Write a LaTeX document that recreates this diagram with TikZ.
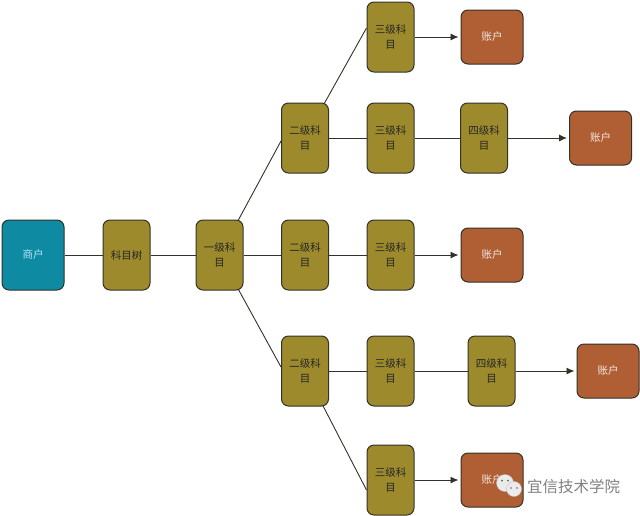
\documentclass[tikz,border=0pt]{standalone}
\usepackage{fontspec}
\setmainfont{Noto Sans CJK SC}
\usetikzlibrary{arrows.meta,backgrounds}
\definecolor{olive}{HTML}{9C8A2C}
\definecolor{teal2}{HTML}{0E8BA2}
\definecolor{rust}{HTML}{B05F35}
\definecolor{edgeC}{HTML}{33322A}
\tikzset{
 box/.style={draw=edgeC,line width=1pt,rounded corners=7pt,align=center,inner sep=0pt,font=\fontsize{10.5}{14.5}\selectfont},
 lvl/.style={box,fill=olive,text=black!85,minimum width=47pt,minimum height=70pt},
 acct/.style={box,fill=rust,text=white!85!rust,minimum width=62pt,minimum height=54pt},
 rootbox/.style={box,fill=teal2,text=cyan!30!white,minimum width=62pt,minimum height=70pt},
 link/.style={draw=edgeC,line width=0.9pt},
 arrowlink/.style={link,-{Latex[length=8pt,width=7pt]},shorten >=2pt},
 wmark/.style={font=\fontsize{15.5}{18}\selectfont,text=black!50,inner sep=0pt},
 bubble/.style={fill=white!92!black,draw=black!25,line width=0.4pt},
 eye/.style={fill=black!60,draw=none}
}
\begin{document}
\begin{tikzpicture}[x=1pt,y=-1pt]
\useasboundingbox (0,0) rectangle (640,515);
\node[rootbox] (m) at (33,255) {商户};
\node[lvl] (t) at (126.5,255) {科目树};
\node[lvl] (l1) at (219.5,255) {一级科\\目};
\node[lvl] (l2a) at (305,138) {二级科\\目};
\node[lvl] (l2b) at (305,255) {二级科\\目};
\node[lvl] (l2c) at (305,371) {二级科\\目};
\node[lvl] (l3a) at (390.5,37) {三级科\\目};
\node[lvl] (l3b) at (390.5,138) {三级科\\目};
\node[lvl] (l3c) at (390.5,255) {三级科\\目};
\node[lvl] (l3d) at (390.5,371) {三级科\\目};
\node[lvl] (l3e) at (390.5,480) {三级科\\目};
\node[lvl] (l4a) at (484,138) {四级科\\目};
\node[lvl] (l4b) at (491.5,371) {四级科\\目};
\node[acct] (a1) at (492,37) {账户};
\node[acct] (a2) at (600.5,138) {账户};
\node[acct] (a3) at (492,255) {账户};
\node[acct] (a4) at (608,371) {账户};
\node[acct] (a5) at (492,480) {账户};
\begin{scope}[on background layer]
\draw[link] (m) -- (t);
\draw[link] (t) -- (l1);
\draw[link] (l1.center) -- ([yshift=-3pt]l2a.west);
\draw[link] (l1) -- (l2b);
\draw[link] (l1.center) -- ([yshift=4pt]l2c.west);
\draw[link] (l2a.center) -- ([yshift=9pt]l3a.west);
\draw[link] (l2a) -- (l3b);
\draw[link] (l2b) -- (l3c);
\draw[link] (l2c) -- (l3d);
\draw[link] (l2c.center) -- ([yshift=-10pt]l3e.west);
\draw[link] (l3b) -- (l4a);
\draw[link] (l3d) -- (l4b);
\draw[arrowlink] (l3a) -- (a1);
\draw[arrowlink] (l4a) -- (a2);
\draw[arrowlink] (l3c) -- (a3);
\draw[arrowlink] (l4b) -- (a4);
\draw[arrowlink] (l3e) -- (a5);
\end{scope}
\filldraw[bubble] (505,483) circle (8.5);
\fill[eye] (502,480.5) circle (1) (508,480.5) circle (1);
\filldraw[bubble] (514,489) circle (7.5);
\fill[eye] (511,488) circle (0.9) (517,488) circle (0.9);
\node[wmark,anchor=west] (w) at (527,487) {宜信技术学院};
\end{tikzpicture}
\end{document}
